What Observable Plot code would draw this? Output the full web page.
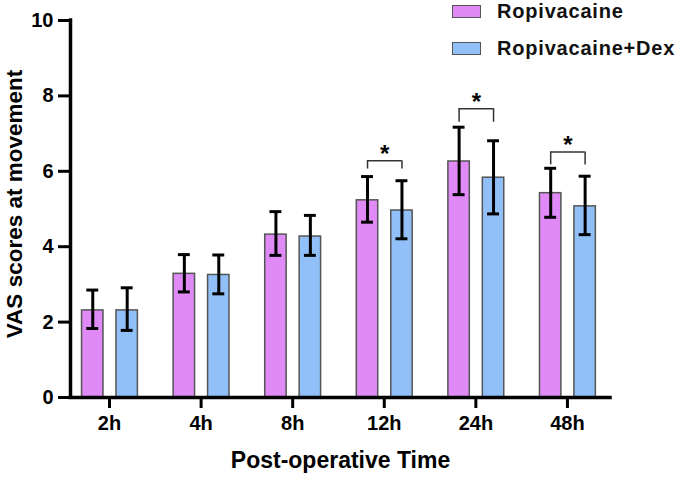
<!DOCTYPE html>
<html>
<head>
<meta charset="utf-8">
<script src="https://cdn.jsdelivr.net/npm/d3@7"></script>
<script src="https://cdn.jsdelivr.net/npm/@observablehq/plot@0.6"></script>
<style>
  html, body { margin: 0; padding: 0; background: #fff; }
  #wrap { position: relative; width: 685px; height: 481px; font-family: "Liberation Sans", Arial, sans-serif; }
  .leg { position: absolute; display: flex; align-items: center; font-weight: bold; font-size: 20px; line-height: 22px; letter-spacing: 0.8px; color: #111; white-space: nowrap; }
  .sw { width: 27px; height: 11px; border: 1.5px solid #555; margin-right: 16px; }
</style>
</head>
<body>
<div id="wrap"></div>
<script>
// ---- data ----
const times = ["2h", "4h", "8h", "12h", "24h", "48h"];
const groups = ["Ropivacaine", "Ropivacaine+Dex"];
const ropiMean = [2.31, 3.28, 4.32, 5.23, 6.26, 5.42];
const ropiLow  = [1.83, 2.80, 3.77, 4.65, 5.38, 4.78];
const ropiHigh = [2.85, 3.79, 4.93, 5.86, 7.17, 6.08];
const dexMean  = [2.31, 3.25, 4.27, 4.96, 5.83, 5.07];
const dexLow   = [1.78, 2.75, 3.77, 4.21, 4.87, 4.32];
const dexHigh  = [2.91, 3.78, 4.83, 5.75, 6.81, 5.87];
const sigTimes = ["12h", "24h", "48h"];
const bracketTop = [6.28, 7.66, 6.51];
const bracketLeg = [6.06, 7.30, 6.17];
const yTicks = [0, 2, 4, 6, 8, 10];

// ---- build table ----
const rows = [];
times.forEach((t, i) => {
  rows.push({time: t, i, group: groups[0], mean: ropiMean[i], lo: ropiLow[i], hi: ropiHigh[i]});
  rows.push({time: t, i, group: groups[1], mean: dexMean[i], lo: dexLow[i], hi: dexHigh[i]});
});
const sig = sigTimes.map((t, k) => ({i: times.indexOf(t), top: bracketTop[k], leg: bracketLeg[k]}));

const colors = {"Ropivacaine": "#DF8AF6", "Ropivacaine+Dex": "#91BFF8"};
const off = g => g === groups[0] ? -0.183 : 0.193;  // position of bar within its time slot
const halfW = 0.117;   // half bar width (slot units)
const capW = 0.065;    // half cap width
const xDom = [-0.426, 5.47];

const chart = Plot.plot({
  width: 685,
  height: 481,
  marginLeft: 70,
  marginRight: 75,
  marginTop: 20,
  marginBottom: 84,
  style: {fontFamily: "Liberation Sans, Arial, sans-serif", color: "#000", background: "#fff", overflow: "visible"},
  x: {type: "linear", domain: xDom},
  y: {domain: [0, 10]},
  marks: [
    Plot.rectY(rows, {
      x1: d => d.i + off(d.group) - halfW,
      x2: d => d.i + off(d.group) + halfW,
      y1: 0, y2: "mean",
      fill: d => colors[d.group], stroke: "#555", strokeWidth: 1.5
    }),
    Plot.ruleX(rows, {x: d => d.i + off(d.group), y1: "lo", y2: "hi", stroke: "#000", strokeWidth: 3}),
    Plot.ruleY(rows, {y: "lo", x1: d => d.i + off(d.group) - capW, x2: d => d.i + off(d.group) + capW, stroke: "#000", strokeWidth: 3}),
    Plot.ruleY(rows, {y: "hi", x1: d => d.i + off(d.group) - capW, x2: d => d.i + off(d.group) + capW, stroke: "#000", strokeWidth: 3}),
    // significance brackets
    Plot.ruleY(sig, {y: "top", x1: d => d.i + off(groups[0]), x2: d => d.i + off(groups[1]), stroke: "#333", strokeWidth: 1.5}),
    Plot.ruleX(sig, {x: d => d.i + off(groups[0]), y1: "leg", y2: "top", stroke: "#333", strokeWidth: 1.5}),
    Plot.ruleX(sig, {x: d => d.i + off(groups[1]), y1: "leg", y2: "top", stroke: "#333", strokeWidth: 1.5}),
    Plot.text(sig, {x: d => d.i + (off(groups[0]) + off(groups[1])) / 2, y: "top", text: () => "*", fontSize: 24, fontWeight: "bold", lineAnchor: "bottom", dy: 1, fill: "#000"}),
    // axes
    Plot.axisY({ticks: yTicks, tickSize: 12, tickPadding: 5, fontSize: 20, fontWeight: "bold", strokeWidth: 3, label: null, fill: "#000"}),
    Plot.axisX({ticks: d3.range(times.length), tickFormat: i => times[i], tickSize: 11, tickPadding: 7, fontSize: 20, fontWeight: "bold", strokeWidth: 3, label: null, fill: "#000"}),
    Plot.ruleX([xDom[0]], {y1: 0, y2: 10, stroke: "#000", strokeWidth: 3.5, strokeLinecap: "square"}),
    Plot.ruleY([0], {x1: xDom[0], x2: xDom[1], stroke: "#000", strokeWidth: 3.5, strokeLinecap: "square"}),
    // axis titles
    Plot.text(["VAS scores at movement"], {frameAnchor: "left", textAnchor: "middle", lineAnchor: "middle", text: d => d, rotate: -90, dx: -56, dy: -5, fontSize: 22.5, fontWeight: "bold", fill: "#000"}),
    Plot.text(["Post-operative Time"], {frameAnchor: "bottom", text: d => d, dy: 70, fontSize: 23, fontWeight: "bold", fill: "#000"})
  ]
});

const wrap = document.getElementById("wrap");
wrap.appendChild(chart);
groups.forEach((g, k) => {
  const el = document.createElement("div");
  el.className = "leg";
  el.style.left = "452px";
  el.style.top = (k === 0 ? 0 : 37) + "px";
  el.style.height = "22px";
  el.innerHTML = `<span class="sw" style="background:${colors[g]}"></span><span>${g}</span>`;
  wrap.appendChild(el);
});
</script>
</body>
</html>
